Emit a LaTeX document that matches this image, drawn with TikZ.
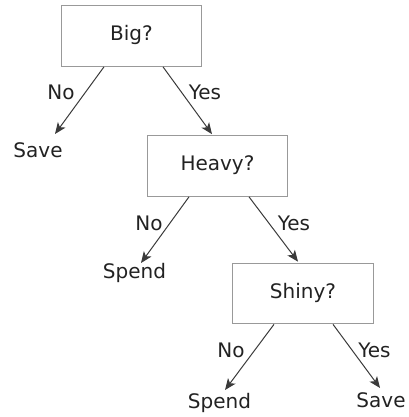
\documentclass[tikz,border=0pt]{standalone}
\usepackage{fontspec}
\setmainfont{DejaVu Sans}
\usetikzlibrary{arrows.meta,calc}
\definecolor{boxline}{HTML}{999999}
\definecolor{edgeline}{HTML}{3A3A3A}
\definecolor{txt}{HTML}{222222}
\begin{document}
\begin{tikzpicture}[x=0.75pt,y=-0.75pt,
  every node/.style={font=\fontsize{15}{18}\selectfont, text=txt},
  qbox/.style={draw=boxline, line width=0.75pt, minimum width=105.5pt, minimum height=45.5pt, inner sep=0pt, text height=0.73em, text depth=0pt},
  leaf/.style={inner sep=0pt, anchor=base},
  elabel/.style={inner sep=0pt, anchor=base},
  arr/.style={draw=edgeline, line width=0.75pt, -{Stealth[length=8.5pt,width=7pt,inset=2.2pt]}}]
\useasboundingbox (0,0) rectangle (408,417);
\node[qbox] (big) at (131.5,36) {Big?};
\node[qbox] (heavy) at (217.5,166) {Heavy?};
\node[qbox] (shiny) at (303,293.5) {Shiny?};
\node[leaf] (save1) at (38,157) {Save};
\node[leaf] (spend1) at (134.5,278) {Spend};
\node[leaf] (spend2) at (219.5,408) {Spend};
\node[leaf] (save2) at (381,407) {Save};
\node[elabel] (no1) at (61,100) {No};
\node[elabel] (yes1) at (205,100) {Yes};
\node[elabel] (no2) at (149,230) {No};
\node[elabel] (yes2) at (294,230) {Yes};
\node[elabel] (no3) at (231,357) {No};
\node[elabel] (yes3) at (374.5,357) {Yes};
\draw[arr] ($(big.south)+(-27.5,0)$) -- ($(save1.base)+(17,-23)$);
\draw[arr] ($(big.south)+(31.5,0)$) -- ($(heavy.north)+(-5.5,-1)$);
\draw[arr] ($(heavy.south)+(-28.5,0)$) -- ($(spend1.base)+(6.5,-15)$);
\draw[arr] ($(heavy.south)+(31.5,0)$) -- ($(shiny.north)+(-5,-1)$);
\draw[arr] ($(shiny.south)+(-29,0)$) -- ($(spend2.base)+(5.5,-18)$);
\draw[arr] ($(shiny.south)+(30,0)$) -- ($(save2.base)+(-1,-19)$);
\end{tikzpicture}
\end{document}
